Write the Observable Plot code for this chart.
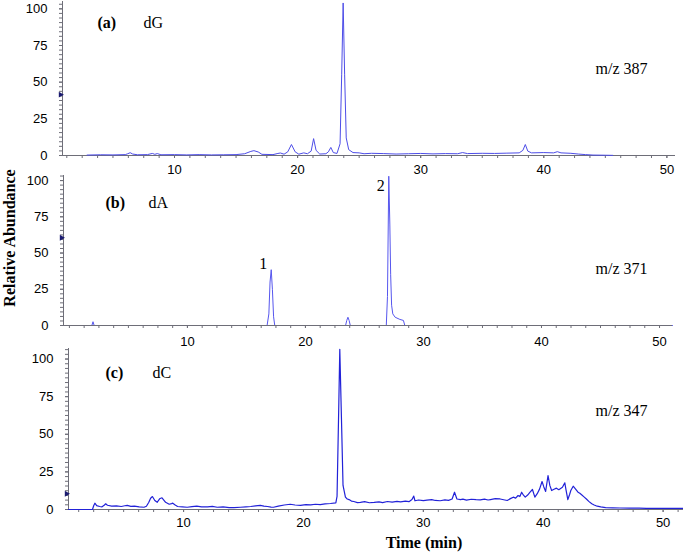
<!DOCTYPE html>
<html><head><meta charset="utf-8">
<script src="https://cdn.jsdelivr.net/npm/d3@7"></script>
<script src="https://cdn.jsdelivr.net/npm/@observablehq/plot@0.6"></script>
<style>
html,body{margin:0;padding:0;background:#fff;}
#wrap{position:relative;width:683px;height:552px;overflow:hidden;background:#fff;}
.panel{position:absolute;left:0;}
.lab{position:absolute;font-family:"Liberation Serif";font-weight:bold;font-size:16px;color:#000;white-space:nowrap;transform:translate(-50%,-50%);}
</style></head><body>
<div id="wrap"></div>
<script>
// ---- data: [time (min), relative abundance] ----
const dG = [[2.9,0.3],[4,0.5],[5,0.4],[6,0.6],[6.2,1.2],[6.4,1.9],[6.6,1.0],[7,0.5],[7.8,0.6],[8.2,1.4],[8.4,0.8],[8.6,1.3],[8.9,0.5],[10,0.6],[11,0.4],[12,0.6],[13,0.4],[14,0.5],[15,0.6],[15.7,1.2],[16.2,2.8],[16.45,3.3],[16.8,2.4],[17.1,0.8],[18,0.6],[18.4,1.4],[18.6,1.7],[18.9,0.9],[19.2,2.5],[19.5,7.5],[19.8,2.5],[20.1,0.9],[20.5,1.8],[20.8,1.2],[21.1,3.0],[21.3,11.5],[21.5,3.5],[21.8,1.0],[22.3,1.2],[22.5,2.5],[22.7,5.5],[22.9,2.0],[23.2,1.4],[23.45,8],[23.58,55],[23.7,104],[23.82,55],[23.95,12],[24.15,4],[24.5,2],[25.0,1.8],[25.4,1.2],[26,1.5],[27,1.3],[28,1.0],[29,1.2],[30,1.4],[31,1.1],[32,1.3],[33,1.2],[33.4,2.0],[33.8,1.3],[35,1.5],[36,1.4],[37,1.6],[38,1.8],[38.3,3.5],[38.5,7.5],[38.7,3.0],[39,1.8],[40,2.0],[40.8,1.8],[41.1,2.6],[41.4,1.8],[42.2,1.5],[42.8,1.0],[43.4,0.6],[44,0.3],[45,0.2],[45.6,0.1]];
const dA = [[-0.5,0],[1.9,0],[2.0,2.6],[2.1,0],[16.75,0],[16.9,8],[17.0,30],[17.1,38.5],[17.2,25],[17.3,6],[17.4,0],[23.4,0],[23.5,3.5],[23.6,5.7],[23.7,3.5],[23.8,0],[26.85,0],[26.95,20],[27.06,103],[27.15,70],[27.22,35],[27.3,14],[27.4,8],[27.6,5.7],[28.0,4.2],[28.3,3.5],[28.42,0],[51.1,0]];
const dC = [[0.4,0],[2.4,0],[2.5,2.5],[2.6,4.2],[2.75,2.6],[3.0,2.0],[3.2,1.8],[3.4,3.0],[3.5,3.8],[3.65,2.8],[4.0,2.2],[4.4,2.4],[4.8,2.0],[5.1,2.5],[5.3,2.7],[5.6,2.1],[5.9,2.3],[6.3,1.8],[6.7,1.5],[6.9,2.2],[7.1,4.8],[7.25,7.5],[7.4,8.6],[7.6,6.0],[7.8,4.8],[8.0,7.1],[8.2,7.8],[8.35,6.3],[8.5,4.8],[8.8,3.5],[9.0,3.9],[9.1,4.2],[9.3,3.0],[9.5,2.0],[9.9,1.8],[10.3,1.5],[10.7,1.9],[11.1,2.2],[11.5,1.8],[12.0,1.8],[12.4,2.1],[12.8,1.5],[13.3,1.7],[13.8,1.3],[14.2,1.2],[14.75,1.5],[15.2,1.8],[15.6,2.0],[16.0,2.4],[16.4,2.7],[16.7,2.3],[17.0,2.0],[17.3,1.6],[17.5,1.5],[17.9,2.2],[18.4,3.0],[18.9,3.5],[19.3,3.0],[19.75,2.7],[20.2,3.2],[20.6,3.1],[21.0,3.5],[21.4,3.3],[21.8,3.7],[22.25,4.0],[22.7,4.4],[22.8,8.7],[22.95,71],[23.03,106.5],[23.17,60],[23.3,16],[23.5,8.2],[23.65,7.0],[23.8,6.6],[24.0,5.6],[24.2,5.3],[24.5,4.6],[24.75,4.7],[25.1,5.2],[25.5,4.5],[25.9,4.7],[26.3,5.1],[26.6,4.6],[27.0,5.3],[27.4,4.9],[27.8,5.4],[28.1,5.1],[28.5,5.6],[28.8,5.2],[29.05,6.6],[29.2,8.9],[29.3,5.8],[29.6,6.3],[30.0,5.9],[30.3,6.2],[30.7,6.6],[31.0,6.0],[31.4,5.8],[31.8,6.4],[32.1,6.1],[32.4,7.0],[32.6,11.5],[32.8,7.0],[33.1,6.6],[33.3,6.9],[33.6,6.2],[34.0,6.8],[34.4,6.5],[34.75,6.4],[35.1,6.9],[35.4,6.3],[35.6,6.6],[36.0,7.2],[36.4,7.0],[36.7,6.5],[37.0,6.0],[37.3,7.4],[37.5,8.2],[37.7,7.6],[37.9,9.3],[38.05,8.6],[38.2,11.5],[38.35,9.5],[38.5,8.2],[38.7,9.6],[38.9,11.5],[39.1,13.3],[39.3,8.2],[39.5,10.5],[39.7,13.7],[39.9,18.6],[40.05,15],[40.2,12],[40.4,22.6],[40.55,16],[40.7,12.6],[40.9,13.5],[41.1,14.2],[41.3,13.2],[41.6,14.8],[41.8,17.7],[41.9,13],[42.05,6.6],[42.2,10],[42.3,12.6],[42.5,15.5],[42.7,13.6],[42.9,11.5],[43.05,10.8],[43.2,9.8],[43.4,8.4],[43.6,7.0],[43.8,5.4],[44.05,3.8],[44.25,3.0],[44.5,2.2],[44.8,1.7],[45.2,1.2],[45.8,1.1],[46.4,1.0],[47.2,0.9],[48.0,0.9],[48.6,0.8],[49.5,0.8],[50.5,0.7],[51.7,0.7]];

// normalisation-level markers on each y axis
const markerLevels = {dG: 41.5, dA: 60.5, dC: 10.5};
// labelled peaks in panel (b): [time, abundance, label]
const peaksA = [[17.1, 38.5, "1"], [27.06, 103, "2"]];

const panelTags = ["(a)", "(b)", "(c)"];
const compounds = ["dG", "dA", "dC"];
const mzLabels = ["m/z 387", "m/z 371", "m/z 347"];
const xMajor = [10, 20, 30, 40, 50];
const yMajor = [0, 25, 50, 75, 100];
const xMinor = d3.range(0, 53, 1.25);
const yMinor = d3.range(0, 108, 3.125);

const axisColor = "#6e6e78";
const serif = "Liberation Serif";

function panel(cfg) {
  const [x0, x1] = cfg.xDomain;
  const line = Plot.line(cfg.data, {x: d => d[0], y: d => d[1], stroke: cfg.color, strokeWidth: cfg.sw});
  const marks = [];
  if (cfg.lineUnder) marks.push(line);
  marks.push(
    Plot.ruleY([0], {stroke: axisColor}),
    Plot.ruleX([x0], {stroke: axisColor}),
    Plot.axisX({ticks: xMinor.filter(v => v > x0 && v <= x1), tickSize: 3, tickFormat: () => "", stroke: axisColor, label: null}),
    Plot.axisX({ticks: xMajor, tickSize: 3, tickPadding: cfg.xPad, stroke: axisColor, fill: "#000", fontSize: 13, label: null}),
    Plot.axisY({ticks: yMinor.filter(v => v <= cfg.yDomain[1]), tickSize: 3, tickFormat: () => "", stroke: axisColor, label: null}),
    Plot.axisY({ticks: yMajor, tickSize: 3, tickPadding: 12, stroke: axisColor, fill: "#000", fontSize: 13, label: null})
  );
  if (!cfg.lineUnder) marks.push(line);
  marks.push(
    Plot.dot([cfg.marker], {y: d => d, frameAnchor: "left", symbol: "triangle", r: 2.2, fill: "#1b1b70", stroke: "none", rotate: 90, dx: -2}),
    Plot.text([cfg.tag], {frameAnchor: "top-left", dx: cfg.tagDx, dy: cfg.tagDy, textAnchor: "start", lineAnchor: "middle", fontFamily: serif, fontWeight: "bold", fontSize: 16, fill: "#000"}),
    Plot.text([cfg.compound], {frameAnchor: "top-left", dx: cfg.cmpDx, dy: cfg.tagDy, textAnchor: "start", lineAnchor: "middle", fontFamily: serif, fontSize: 16, fill: "#000"}),
    Plot.text([cfg.mz], {frameAnchor: "top-left", dx: cfg.mzDx, dy: cfg.mzDy, textAnchor: "start", lineAnchor: "middle", fontFamily: serif, fontSize: 16, fill: "#000"})
  );
  if (cfg.extra) marks.push(...cfg.extra);
  const svg = Plot.plot({
    width: 683, height: cfg.height,
    marginTop: cfg.mt, marginBottom: cfg.mb, marginLeft: cfg.ml, marginRight: cfg.mr,
    x: {domain: cfg.xDomain},
    y: {domain: cfg.yDomain},
    style: {fontFamily: "Liberation Sans", fontSize: "13px", background: "transparent", color: "#000", overflow: "visible"},
    marks
  });
  svg.classList.add("panel");
  svg.style.top = cfg.top + "px";
  return svg;
}

const wrap = document.getElementById("wrap");

wrap.appendChild(panel({
  data: dG, color: "#4d4de8", sw: 1, lineUnder: false,
  top: 0, height: 180, mt: 1, mb: 25, ml: 62, mr: 8,
  xDomain: [0.9, 50.7], yDomain: [0, 105], xPad: 6,
  marker: markerLevels.dG, tag: panelTags[0], compound: compounds[0], mz: mzLabels[0],
  tagDx: 35, tagDy: 21, cmpDx: 81, mzDx: 533, mzDy: 67
}));

wrap.appendChild(panel({
  data: dA, color: "#5656ee", sw: 1, lineUnder: true,
  top: 172, height: 178, mt: 3, mb: 25, ml: 63, mr: 11,
  xDomain: [-0.5, 51.1], yDomain: [0, 103.5], xPad: 8,
  marker: markerLevels.dA, tag: panelTags[1], compound: compounds[1], mz: mzLabels[1],
  tagDx: 42, tagDy: 27, cmpDx: 85, mzDx: 532, mzDy: 93,
  extra: [
    Plot.text([peaksA[0]], {x: d => d[0], y: d => d[1], text: d => d[2], dx: -8, dy: -6, fontFamily: serif, fontSize: 16, fill: "#000"}),
    Plot.text([peaksA[1]], {x: d => d[0], y: d => d[1], text: d => d[2], dx: -8, dy: 10, fontFamily: serif, fontSize: 16, fill: "#000"})
  ]
}));

wrap.appendChild(panel({
  data: dC, color: "#2222d8", sw: 1.2, lineUnder: false,
  top: 340, height: 212, mt: 8, mb: 43, ml: 68, mr: 0,
  xDomain: [0.4, 51.7], yDomain: [0, 107], xPad: 5,
  marker: markerLevels.dC, tag: panelTags[2], compound: compounds[2], mz: mzLabels[2],
  tagDx: 37, tagDy: 24, cmpDx: 84, mzDx: 527, mzDy: 62
}));

const yl = document.createElement("div");
yl.className = "lab";
yl.textContent = "Relative Abundance";
yl.style.left = "10px"; yl.style.top = "238px";
yl.style.transform = "translate(-50%,-50%) rotate(-90deg)";
wrap.appendChild(yl);

const xl = document.createElement("div");
xl.className = "lab";
xl.textContent = "Time (min)";
xl.style.left = "424px"; xl.style.top = "543px";
wrap.appendChild(xl);
</script>
</body></html>
